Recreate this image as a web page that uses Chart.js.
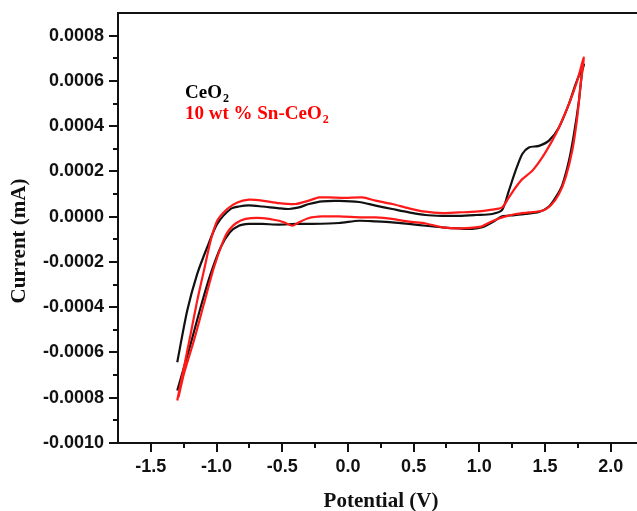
<!DOCTYPE html>
<html>
<head>
<meta charset="utf-8">
<script src="https://cdn.jsdelivr.net/npm/chart.js@4/dist/chart.umd.min.js"></script>
<style>
  html, body { margin: 0; padding: 0; background: #fff; }
  #cv { display: block; }
</style>
</head>
<body>
<canvas id="cv" width="637" height="511"></canvas>
<script>
// CeO2 loop (black): potential in V, current in mA
const ceo2Potential = [
  -1.299, -1.223, -1.147, -1.071, -0.995, -0.893, -0.830, -0.753, -0.652, -0.525,
  -0.450, -0.373, -0.297, -0.196, -0.068, 0.084, 0.211, 0.337, 0.464, 0.591,
  0.718, 0.845, 0.972, 1.098, 1.174, 1.225, 1.276, 1.327, 1.377, 1.454,
  1.530, 1.606, 1.682, 1.733, 1.796,
  1.783, 1.758, 1.720, 1.682, 1.631, 1.581, 1.530, 1.454, 1.352, 1.250,
  1.174, 1.098, 1.022, 0.946, 0.845, 0.718, 0.591, 0.464, 0.337, 0.211,
  0.084, -0.068, -0.272, -0.398, -0.525, -0.652, -0.753, -0.830, -0.900, -0.969,
  -1.045, -1.121, -1.197, -1.299
]
const ceo2Current = [
  -0.000643, -0.000415, -0.000253, -0.000135, -0.000032, 0.000034, 0.000045, 0.000050, 0.000045, 0.000037,
  0.000034, 0.000041, 0.000056, 0.000068, 0.000070, 0.000065, 0.000049, 0.000034, 0.000019, 0.0000075,
  0.000004, 0.000004, 0.0000075, 0.000012, 0.000030, 0.000115, 0.000203, 0.000277, 0.000306, 0.000313,
  0.000336, 0.000394, 0.000498, 0.000586, 0.000672,
  0.000645, 0.000512, 0.000365, 0.000247, 0.000140, 0.000085, 0.000045, 0.000021, 0.000012, 0.000006,
  0.000002, -0.000025, -0.000047, -0.000054, -0.000052, -0.000047, -0.000040, -0.000032, -0.000025, -0.000021,
  -0.000018, -0.000028, -0.000032, -0.000032, -0.000035, -0.000032, -0.000032, -0.000040, -0.000070, -0.000136,
  -0.000253, -0.000400, -0.000562, -0.000768
]

// 10 wt % Sn-CeO2 loop (red)
const snPotential = [
  -1.299, -1.248, -1.197, -1.147, -1.096, -1.045, -0.995, -0.919, -0.842, -0.753,
  -0.652, -0.525, -0.398, -0.297, -0.221, -0.145, -0.018, 0.109, 0.211, 0.337,
  0.464, 0.591, 0.718, 0.845, 0.972, 1.098, 1.174, 1.225, 1.276, 1.327,
  1.403, 1.479, 1.555, 1.606, 1.682, 1.745, 1.796,
  1.771, 1.745, 1.707, 1.657, 1.606, 1.543, 1.479, 1.377, 1.276, 1.174,
  1.098, 1.022, 0.972, 0.845, 0.718, 0.591, 0.464, 0.337, 0.211, 0.109,
  -0.068, -0.196, -0.297, -0.373, -0.424, -0.474, -0.525, -0.652, -0.779, -0.855,
  -0.906, -0.944, -1.020, -1.096, -1.172, -1.248, -1.290
]
const snCurrent = [
  -0.000812, -0.000665, -0.000518, -0.000371, -0.000238, -0.000106, -0.000018, 0.000034, 0.000063, 0.000075,
  0.000071, 0.000060, 0.000056, 0.000071, 0.000085, 0.000085, 0.000083, 0.000085, 0.000071, 0.000056,
  0.000037, 0.000022, 0.000016, 0.000019, 0.000022, 0.000031, 0.000041, 0.000085, 0.000129, 0.000166,
  0.000203, 0.000262, 0.000336, 0.000394, 0.000498, 0.000600, 0.000703,
  0.000586, 0.000438, 0.000291, 0.000174, 0.000100, 0.000049, 0.000026, 0.000019, 0.000012, -0.000003,
  -0.000020, -0.000042, -0.000047, -0.000052, -0.000047, -0.000030, -0.000022, -0.000010, -0.000003, -0.000003,
  0.000001, 0.000001, -0.000006, -0.000025, -0.000040, -0.000028, -0.000018, -0.000006, -0.000010, -0.000030,
  -0.000060, -0.000100, -0.000224, -0.000385, -0.000547, -0.000694, -0.000798
]

const xTickValues = [-1.5, -1.0, -0.5, 0.0, 0.5, 1.0, 1.5, 2.0]
const xMinorTicks = [-1.25, -0.75, -0.25, 0.25, 0.75, 1.25, 1.75]
const yTickValues = [-0.0010, -0.0008, -0.0006, -0.0004, -0.0002, 0.0, 0.0002, 0.0004, 0.0006, 0.0008]
const yMinorTicks = [-0.0009, -0.0007, -0.0005, -0.0003, -0.0001, 0.0001, 0.0003, 0.0005, 0.0007]

function toPoints(xs, ys) {
  return xs.map((x, i) => ({ x: x, y: ys[i] }))
}

// frame, outward ticks, axis titles and the text legend
const decor = {
  id: 'decor',
  afterDraw(chart) {
    const ctx = chart.ctx
    const a = chart.chartArea
    const xs = chart.scales.x
    const ys = chart.scales.y
    ctx.save()
    ctx.strokeStyle = '#111'
    ctx.lineWidth = 2
    ctx.beginPath()
    ctx.moveTo(a.right + 4, a.top)
    ctx.lineTo(a.left, a.top)
    ctx.lineTo(a.left, a.bottom)
    ctx.lineTo(a.right + 4, a.bottom)
    ctx.stroke()

    ctx.beginPath()
    xTickValues.forEach(v => {
      const px = Math.round(xs.getPixelForValue(v))
      ctx.moveTo(px, a.bottom); ctx.lineTo(px, a.bottom + 9)
    })
    xMinorTicks.forEach(v => {
      const px = Math.round(xs.getPixelForValue(v))
      ctx.moveTo(px, a.bottom); ctx.lineTo(px, a.bottom + 5)
    })
    yTickValues.forEach(v => {
      const py = Math.round(ys.getPixelForValue(v))
      ctx.moveTo(a.left, py); ctx.lineTo(a.left - 9, py)
    })
    yMinorTicks.forEach(v => {
      const py = Math.round(ys.getPixelForValue(v))
      ctx.moveTo(a.left, py); ctx.lineTo(a.left - 5, py)
    })
    ctx.stroke()

    // axis titles
    ctx.fillStyle = '#111'
    ctx.font = 'bold 21px "Liberation Serif"'
    ctx.textAlign = 'center'
    ctx.textBaseline = 'alphabetic'
    ctx.fillText('Potential (V)', 381, 507)
    ctx.save()
    ctx.translate(25, 241)
    ctx.rotate(-Math.PI / 2)
    ctx.fillText('Current (mA)', 0, 0)
    ctx.restore()

    // legend text
    ctx.textAlign = 'left'
    ctx.font = 'bold 19px "Liberation Serif"'
    ctx.fillStyle = '#000'
    ctx.fillText('CeO', 185, 98)
    let w = ctx.measureText('CeO').width
    ctx.font = 'bold 12px "Liberation Serif"'
    ctx.fillText('2', 185 + w + 1, 102)

    ctx.font = 'bold 19px "Liberation Serif"'
    ctx.fillStyle = '#ff0000'
    ctx.fillText('10 wt % Sn-CeO', 185, 119)
    w = ctx.measureText('10 wt % Sn-CeO').width
    ctx.font = 'bold 12px "Liberation Serif"'
    ctx.fillText('2', 185 + w + 1, 123)
    ctx.restore()
  }
}

const tickFont = { family: 'Liberation Sans', weight: 'bold', size: 18 }

new Chart(document.getElementById('cv'), {
  type: 'scatter',
  data: {
    datasets: [
      {
        label: '10 wt % Sn-CeO2',
        data: toPoints(snPotential, snCurrent),
        showLine: true,
        borderColor: '#ff1a1a',
        borderWidth: 2.2,
        pointRadius: 0,
        tension: 0.25
      },
      {
        label: 'CeO2',
        data: toPoints(ceo2Potential, ceo2Current),
        showLine: true,
        borderColor: '#111',
        borderWidth: 2.2,
        pointRadius: 0,
        tension: 0.25
      }
    ]
  },
  options: {
    responsive: false,
    animation: false,
    devicePixelRatio: 1,
    layout: { padding: { top: 13, right: 0, left: 0, bottom: 0 } },
    plugins: {
      legend: { display: false },
      tooltip: { enabled: false }
    },
    scales: {
      x: {
        type: 'linear',
        min: -1.75,
        max: 2.2,
        afterBuildTicks: s => { s.ticks = xTickValues.map(v => ({ value: v })) },
        afterFit: s => { s.height = 68; s.paddingLeft = 0; s.paddingRight = 0 },
        grid: { display: false, drawTicks: false },
        border: { display: false },
        ticks: {
          color: '#111',
          font: tickFont,
          padding: 13,
          maxRotation: 0,
          callback: v => v.toFixed(1)
        }
      },
      y: {
        type: 'linear',
        min: -0.0010,
        max: 0.0009,
        afterBuildTicks: s => { s.ticks = yTickValues.map(v => ({ value: v })) },
        afterFit: s => { s.width = 118; s.paddingTop = 0; s.paddingBottom = 0 },
        grid: { display: false, drawTicks: false },
        border: { display: false },
        ticks: {
          color: '#111',
          font: tickFont,
          padding: 14,
          callback: v => v.toFixed(4)
        }
      }
    }
  },
  plugins: [decor]
})
</script>
</body>
</html>
